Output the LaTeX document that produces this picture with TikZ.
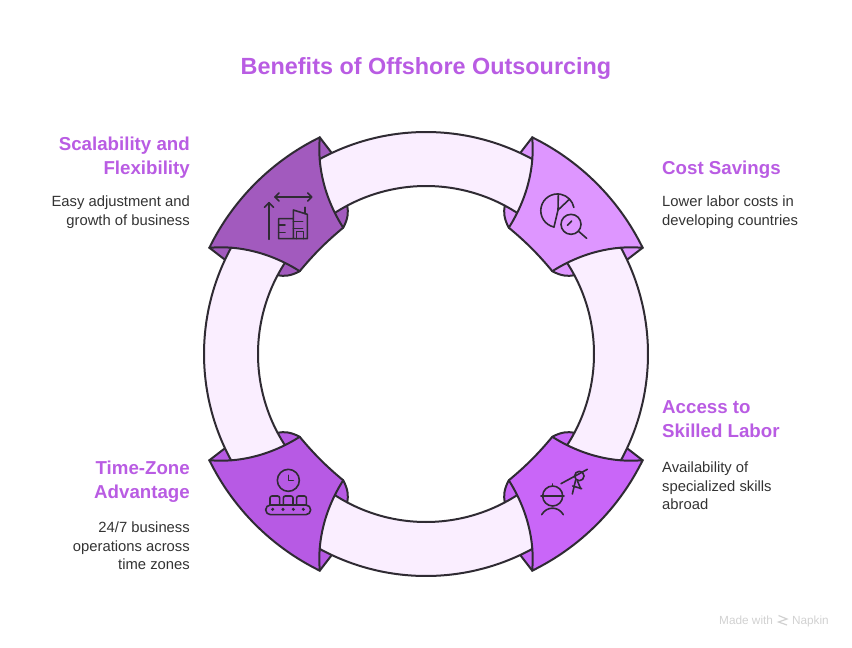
\documentclass[tikz,border=0pt]{standalone}
\usepackage{fontspec}
\setmainfont{Liberation Sans}
\usepackage{tikz}
\definecolor{inkline}{HTML}{2F2B33}
\definecolor{bandfill}{HTML}{FAEEFF}
\definecolor{titletext}{HTML}{B95CE3}
\definecolor{bodytext}{HTML}{333333}
\definecolor{scalefill}{HTML}{A25ABE}
\definecolor{costfill}{HTML}{DE96FF}
\definecolor{skillfill}{HTML}{C966F8}
\definecolor{timefill}{HTML}{B75AE4}
\tikzset{
	% ring parts
	part/.style={draw=inkline, line width=2pt, line join=round},
	% icon strokes
	icon/.style={draw=inkline, line width=1.6pt, line cap=round, line join=round},
	% headings beside the ring
	headr/.style={text=titletext, font=\fontsize{18.7}{24}\selectfont\bfseries, align=right, anchor=north east, inner sep=0pt},
	headl/.style={text=titletext, font=\fontsize{18.7}{24}\selectfont\bfseries, align=left, anchor=north west, inner sep=0pt},
	% descriptions beside the ring
	bodyr/.style={text=bodytext, font=\fontsize{14.8}{18.3}\selectfont, align=right, anchor=north east, inner sep=0pt},
	bodyl/.style={text=bodytext, font=\fontsize{14.8}{18.3}\selectfont, align=left, anchor=north west, inner sep=0pt},
	% maker mark
	brand/.style={text=black!18, font=\fontsize{11.8}{13}\selectfont, inner sep=0pt}
}
\begin{document}
\begin{tikzpicture}[x=1pt,y=1pt]
	\useasboundingbox (0,0) rectangle (852,-648);
	\begin{scope}[shift={(426,-354)}]
		% flaps behind the bands
		\foreach \sx/\sy/\col in {1/1/costfill,-1/1/scalefill,1/-1/skillfill,-1/-1/timefill} {
			\begin{scope}[xscale=\sx,yscale=\sy]
				\path[part,fill=\col] (106.3,216.7) -- (95,202) -- (78.7,148)
					.. controls (77.5,142) and (78,135) .. (82.8,126.3) -- (125,150) -- cycle;
				\path[part,fill=\col] (216.7,106.3) -- (202,95) -- (148,78.7)
					.. controls (142,77.5) and (135,78) .. (126.3,82.8) -- (150,125) -- cycle;
			\end{scope}
		}
		% bands
		\foreach \ang in {0,90,180,270} {
			\path[part,fill=bandfill,rotate=\ang] (-35:222) arc[start angle=-35,end angle=35,radius=222]
				-- (35:168) arc[start angle=35,end angle=-35,radius=168] -- cycle;
		}
		% wedges
		\foreach \sx/\sy/\col in {1/1/costfill,-1/1/scalefill,1/-1/skillfill,-1/-1/timefill} {
			\path[part,fill=\col,xscale=\sx,yscale=\sy] (63.9:241.3) arc[start angle=63.9,end angle=26.1,radius=241.3]
				.. controls (187,109) and (155,101) .. (126.3,82.8)
				.. controls (112,100) and (100,112) .. (82.8,126.3)
				.. controls (101,155) and (109,187) .. cycle;
		}
	\end{scope}
	% scalability icon
	\begin{scope}[shift={(190,-120)},x=1pt/3,y=-1pt/3]
		\draw[icon] (255,231) -- (365,231);
		\draw[icon] (267,219) -- (255,231) -- (267,243);
		\draw[icon] (353,219) -- (365,231) -- (353,243);
		\draw[icon] (237,358) -- (237,248);
		\draw[icon] (223,262) -- (237,248) -- (251,262);
		\draw[icon] (310,296) -- (266,296) -- (266,356) -- (352,356) -- (352,283) -- (310,270) -- (310,356);
		\draw[icon] (345,262) -- (345,281);
		\draw[icon] (266,315) -- (285,315) (266,337) -- (285,337);
		\draw[icon] (310,305) -- (338,305) (310,325) -- (338,325);
		\draw[icon] (320,356) -- (320,335) -- (340,335) -- (340,356);
	\end{scope}
	% cost icon
	\begin{scope}[shift={(490,-120)},x=1pt/3,y=-1pt/3]
		\draw[icon] (192,321) arc[start angle=258,end angle=11,radius=16.7pt];
		\draw[icon] (205,222) -- (204,270) -- (192,321);
		\draw[icon] (204,270) -- (238,238);
		\draw[icon] (243,313) circle[radius=10pt];
		\draw[icon] (267,335) -- (290,355);
		\draw[icon] (232,316) -- (245,303);
	\end{scope}
	% skilled labor icon
	\begin{scope}[shift={(490,-420)},x=1pt/3,y=-1pt/3]
		\draw[icon] (188,228) circle[radius=10pt];
		\draw[icon] (153,228) -- (222,228);
		\draw[icon] (188,192) -- (188,198);
		\draw[icon] (155,284) .. controls (170,258) and (205,258) .. (220,284);
		\draw[icon] (268,168) circle[radius=4.7pt];
		\draw[icon] (213,191) -- (292,148);
		\draw[icon] (257,180) -- (247,222);
		\draw[icon] (262,182) -- (272,206);
		\draw[icon] (248,198) -- (275,206);
	\end{scope}
	% time zone icon
	\begin{scope}[shift={(190,-420)},x=1pt/3,y=-1pt/3]
		\draw[icon] (295,181) circle[radius=11pt];
		\draw[icon] (295,166) -- (295,181) -- (310,181);
		\foreach \bx in {240,280,320} {
			\draw[icon,rounded corners=2pt] (\bx,255) -- (\bx,228) -- (\bx+29,228) -- (\bx+29,255);
		}
		\draw[icon,rounded corners=4.8pt] (227,255) rectangle (362,284);
		\foreach \bx in {248,279,310,340} {
			\fill[inkline] (\bx,268) circle[radius=1.7pt];
		}
	\end{scope}
	% title
	\node[text=titletext,font=\fontsize{23.4}{28}\selectfont\bfseries,inner sep=0pt] (title) at (426,-68.5) {Benefits of Offshore Outsourcing};
	% labels
	\node[headr] (scalehead) at (190,-136.5) {Scalability and\\Flexibility};
	\node[bodyr] (scalebody) at (190,-196) {Easy adjustment and\\growth of business};
	\node[headl] (costhead) at (662,-160.5) {Cost Savings};
	\node[bodyl] (costbody) at (662,-196) {Lower labor costs in\\developing countries};
	\node[headl] (skillhead) at (662,-400.5) {Access to\\Skilled Labor};
	\node[bodyl] (skillbody) at (662,-462) {Availability of\\specialized skills\\abroad};
	\node[headr] (timehead) at (190,-460.5) {Time-Zone\\Advantage};
	\node[bodyr] (timebody) at (190,-522) {24/7 business\\operations across\\time zones};
	% maker mark
	\node[brand,anchor=base west] (brandleft) at (719,-624.5) {Made with};
	\node[brand,anchor=base east] (brandright) at (829,-624.5) {Napkin};
	\draw[black!18,line width=1.2pt] (778.5,-615.5) -- (787,-619) -- (778.5,-622) -- (787,-625);
\end{tikzpicture}
\end{document}
